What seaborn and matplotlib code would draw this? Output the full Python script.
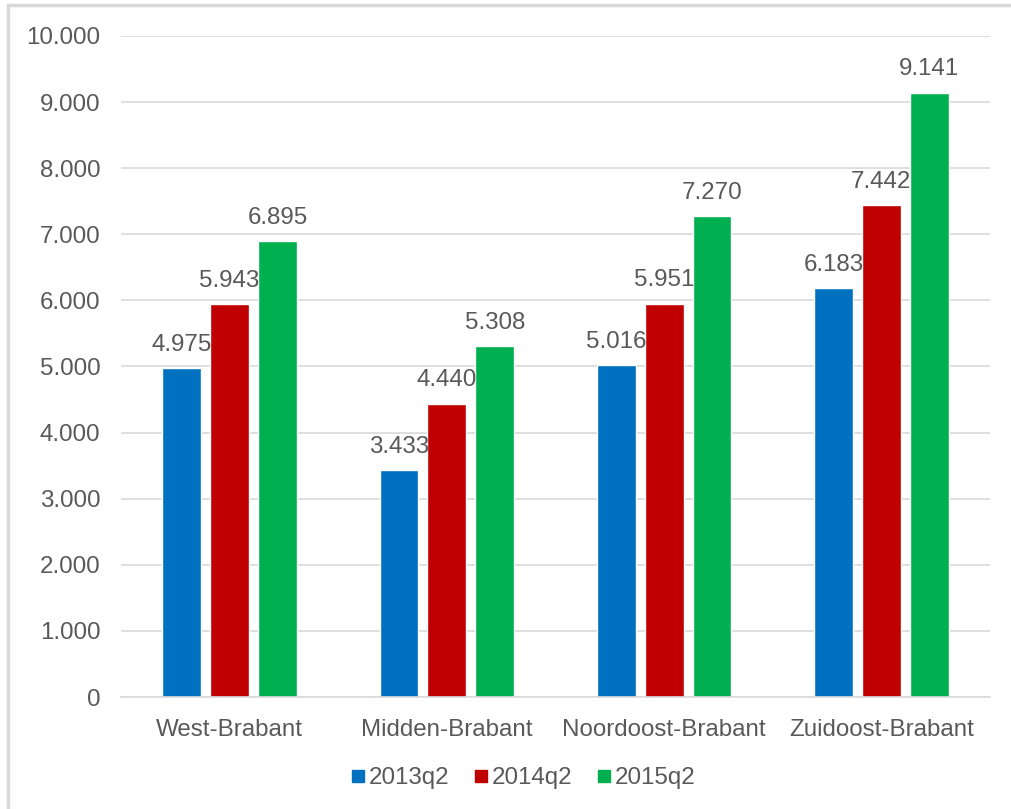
import matplotlib
matplotlib.use("Agg")
import matplotlib.pyplot as plt
from matplotlib.lines import Line2D
from matplotlib.patches import Rectangle
from matplotlib.ticker import FuncFormatter, MultipleLocator
import pandas as pd
import seaborn as sns

regions = ["West-Brabant", "Midden-Brabant", "Noordoost-Brabant", "Zuidoost-Brabant"]
periods = ["2013q2", "2014q2", "2015q2"]
values_2013q2 = [4975, 3433, 5016, 6183]
values_2014q2 = [5943, 4440, 5951, 7442]
values_2015q2 = [6895, 5308, 7270, 9141]
colors = ["#0070C0", "#C00000", "#00B050"]

rows = []
for period, vals in zip(periods, [values_2013q2, values_2014q2, values_2015q2]):
    for region, v in zip(regions, vals):
        rows.append({"regio": region, "periode": period, "aantal": v})
df = pd.DataFrame(rows)

sns.set_theme(style="white")
plt.rcParams["font.family"] = ["Liberation Sans", "DejaVu Sans"]
text_color = "#595959"
grid_color = "#D9D9D9"


def dotted(v):
    return f"{v:,.0f}".replace(",", ".")


fig = plt.figure(figsize=(10.11, 8.09), dpi=100)
ax = fig.add_axes([121 / 1011, 1 - 697 / 809, (990 - 121) / 1011, (697 - 36) / 809])

sns.barplot(data=df, x="regio", y="aantal", hue="periode", order=regions,
            hue_order=periods, palette=colors, width=0.662, gap=0.19,
            saturation=1, legend=False, ax=ax)

for container in ax.containers:
    ax.bar_label(container, labels=[dotted(b.get_height()) for b in container],
                 padding=9, fontsize=17.4, color=text_color)

ax.set_ylim(0, 10000)
ax.set_xlim(-0.5, 3.5)
ax.yaxis.set_major_locator(MultipleLocator(1000))
ax.yaxis.set_major_formatter(FuncFormatter(lambda v, p: dotted(v)))
ax.grid(axis="y", color=grid_color, linewidth=1.2)
ax.set_axisbelow(True)
for side in ["left", "right", "top"]:
    ax.spines[side].set_visible(False)
ax.spines["bottom"].set_color(grid_color)
ax.spines["bottom"].set_linewidth(1.2)
ax.tick_params(axis="both", length=0, labelsize=17.4, colors=text_color)
ax.tick_params(axis="y", pad=15)
ax.tick_params(axis="x", pad=16)
ax.set_xlabel("")
ax.set_ylabel("")

handles = [Line2D([], [], marker="s", linestyle="none", markersize=9,
                  markerfacecolor=c, markeredgecolor=c) for c in colors]
fig.legend(handles, periods, loc="center", bbox_to_anchor=(522 / 1011, 1 - 778 / 809),
           ncol=3, frameon=False, fontsize=17.4, labelcolor=text_color,
           handletextpad=0.05, columnspacing=0.9, handlelength=0.8)

# light frame around the chart area
fig.patches.append(Rectangle((8 / 1011, -0.1), 1.2, 1 - 5 / 809 + 0.1,
                             transform=fig.transFigure, fill=False,
                             edgecolor=grid_color, linewidth=2.5))

fig.savefig("out.png", dpi=100, facecolor="white")
